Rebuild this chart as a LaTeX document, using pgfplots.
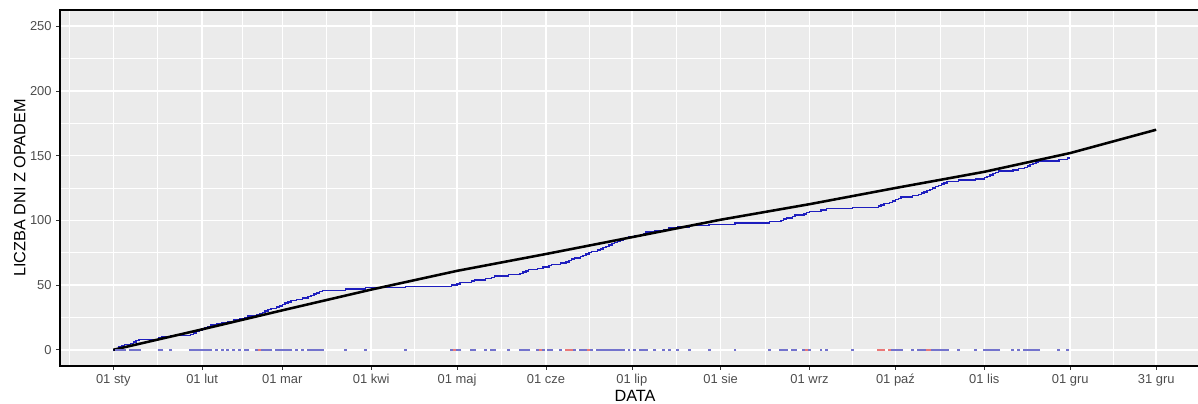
\documentclass[border=0pt]{standalone}
\usepackage{fontspec}
\setmainfont{Liberation Sans}
\usepackage{pgfplots}
\pgfplotsset{compat=1.18}
\usepackage{pgfplotstable}

\definecolor{panelbg}{HTML}{EBEBEB}
\definecolor{ticktext}{HTML}{4D4D4D}
\definecolor{tickline}{HTML}{333333}
\definecolor{stepblue}{RGB}{30,30,190}
\definecolor{markblue}{RGB}{115,115,205}
\definecolor{markred}{RGB}{235,120,120}

% cumulative number of days with precipitation (day of year from 01 sty)
\pgfplotstableread{
day cum
0 0
1 1
2 2
3 3
4 4
6 5
7 6
8 7
9 8
16 9
17 10
20 11
27 12
28 13
29 14
30 15
31 16
32 17
33 18
34 19
36 20
38 21
40 22
42 23
44 24
46 25
47 26
50 27
51 28
52 29
53 30
54 31
55 32
57 33
58 34
59 35
60 36
61 37
62 38
64 39
66 40
68 41
69 42
70 43
71 44
72 45
73 46
81 47
88 48
102 49
118 50
120 51
121 52
125 53
126 54
130 55
132 56
133 57
138 58
142 59
143 60
144 61
145 62
148 63
150 64
152 65
153 66
156 67
158 68
159 69
160 70
161 71
163 72
164 73
165 74
166 75
167 76
169 77
170 78
171 79
172 80
173 81
174 82
175 83
176 84
177 85
178 86
180 87
182 88
184 89
185 90
186 91
189 92
192 93
194 94
197 95
201 96
208 97
217 98
229 99
233 100
234 101
235 102
237 103
238 104
241 105
242 106
243 107
247 108
249 109
258 110
267 111
268 112
269 113
271 114
272 115
273 116
274 117
275 118
279 119
281 120
282 121
283 122
284 123
285 124
286 125
287 126
288 127
289 128
290 129
291 130
295 131
301 132
304 133
305 134
306 135
307 136
308 137
309 138
314 139
316 140
318 141
319 142
320 143
321 144
322 145
323 146
330 147
333 148
334 148
}\stepdata

% mean curve
\pgfplotstableread{
day val
0 0
31 15.8
59 30.5
90 46.5
120 61
151 74
181 87
212 100.5
243 112.5
273 125
304 137.5
334 152
364 170
}\meandata

\begin{document}
\begin{tikzpicture}
\begin{axis}[
    name=ax,
    scale only axis,
    width=853.5pt, height=267pt,
    xmin=-18.6, xmax=378.6,
    ymin=-12.5, ymax=262.5,
    axis background/.style={fill=panelbg},
    axis line style={draw=none},
    xtick={0,31,59,90,120,151,181,212,243,273,304,334,364},
    xticklabels={01 sty,01 lut,01 mar,01 kwi,01 maj,01 cze,01 lip,01 sie,01 wrz,01 paź,01 lis,01 gru,31 gru},
    ytick={0,50,100,150,200,250},
    minor xtick={-15.5,15.5,45,74.5,105,135.5,166,196.5,227.5,258,288.5,319,349},
    minor ytick={25,75,125,175,225},
    grid=both,
    major grid style={white, line width=1.1pt},
    minor grid style={white, line width=0.55pt},
    tick align=outside,
    tick pos=left,
    major tick length=2.75pt,
    minor tick length=0pt,
    tick style={color=tickline, line width=0.55pt},
    tick label style={font=\fontsize{9.7}{11}\selectfont, color=ticktext},
    /pgf/number format/assume math mode=true,
    xlabel={DATA},
    ylabel={LICZBA DNI Z OPADEM},
    every axis x label/.style={at={(rel axis cs:0,0)}, xshift=431.25pt, yshift=-22.5pt, anchor=center, font=\fontsize{12.2}{14}\selectfont},
    every axis y label/.style={at={(rel axis cs:0,0.5)}, xshift=-30.2pt, rotate=90, anchor=center, font=\fontsize{12.2}{14}\selectfont},
]
\addplot[only marks, mark=-, mark size=1.1pt, mark options={markblue, line width=1.6pt}] coordinates {
(1,0) (2,0) (3,0) (4,0) (6,0) (7,0) (8,0) (9,0) (16,0) (17,0) (20,0)
(27,0) (28,0) (29,0) (30,0) (31,0) (32,0) (33,0) (34,0) (36,0) (38,0) (40,0) (42,0) (44,0)
(46,0) (47,0) (50,0) (52,0) (53,0) (54,0) (55,0) (57,0) (58,0) (59,0) (60,0) (61,0) (62,0)
(64,0) (66,0) (68,0) (69,0) (70,0) (71,0) (72,0) (73,0) (81,0) (88,0) (102,0)
(118,0) (120,0) (121,0) (125,0) (126,0) (130,0) (132,0) (133,0) (138,0)
(142,0) (143,0) (144,0) (145,0) (148,0) (150,0) (152,0) (153,0) (156,0) (161,0) (163,0)
(164,0) (165,0) (167,0) (169,0) (170,0) (171,0) (172,0) (173,0) (174,0) (175,0) (176,0)
(177,0) (178,0) (180,0) (182,0) (184,0) (185,0) (186,0) (189,0) (192,0) (194,0) (197,0)
(201,0) (208,0) (217,0) (229,0) (233,0) (234,0) (235,0) (237,0) (238,0) (241,0) (243,0)
(247,0) (249,0) (258,0) (272,0) (273,0) (274,0) (275,0) (279,0) (281,0) (282,0) (283,0)
(286,0) (287,0) (288,0) (289,0) (290,0) (291,0) (295,0) (301,0) (304,0) (305,0) (306,0)
(307,0) (308,0) (309,0) (314,0) (316,0) (318,0) (319,0) (320,0) (321,0) (322,0) (323,0)
(330,0) (333,0)
};
\addplot[only marks, mark=-, mark size=1.1pt, mark options={markred, line width=1.6pt}] coordinates {
(51,0) (119,0) (149,0) (158,0) (159,0) (160,0) (166,0) (242,0)
(267,0) (268,0) (269,0) (271,0) (284,0) (285,0)
};
\addplot[stepblue, line width=1.1pt, const plot] table[x=day, y=cum] {\stepdata};
\addplot[black, line width=1.9pt] table[x=day, y=val] {\meandata};
\end{axis}
\draw[black, line width=1.1pt] (ax.north east) -- (ax.north west) -- (ax.south west) -- (ax.south east);
\pgfresetboundingbox
\path[use as bounding box] ([xshift=-45pt,yshift=-27.75pt]ax.south west) rectangle ([yshift=7.5pt]ax.north east);
\end{tikzpicture}
\end{document}
